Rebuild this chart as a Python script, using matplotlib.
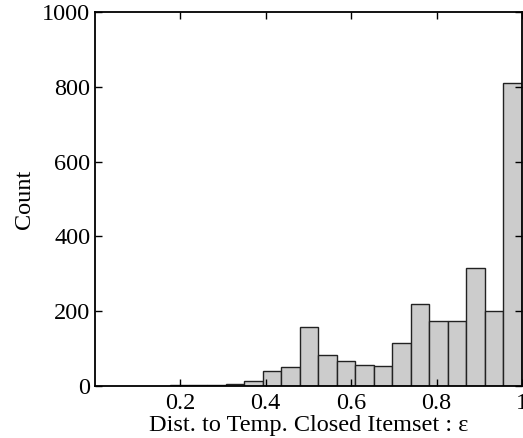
import numpy as np
import matplotlib
matplotlib.use("Agg")
import matplotlib.pyplot as plt

# histogram counts per bin, bins end at 1.0
counts = [2, 3, 3, 6, 13, 40, 52, 159, 84, 66, 57, 53, 114, 220, 175, 174, 315, 200, 810]
bin_width = 0.0433
x_ticks = [0.2, 0.4, 0.6, 0.8, 1.0]
x_tick_labels = ["0.2", "0.4", "0.6", "0.8", "1"]
y_ticks = [0, 200, 400, 600, 800, 1000]

plt.rcParams["font.family"] = ["Liberation Serif", "DejaVu Serif"]
plt.rcParams["font.size"] = 17.5

fig = plt.figure(figsize=(5.23, 4.38), dpi=100)
ax = fig.add_axes([94.5 / 523, 1 - 386 / 438, (522 - 94.5) / 523, (386 - 12) / 438])

n = len(counts)
lefts = 1.0 - bin_width * np.arange(n, 0, -1)
ax.bar(lefts, counts, width=bin_width, align="edge",
       color="#cccccc", edgecolor="#222222", linewidth=1.0)

ax.set_xlim(0, 1)
ax.set_ylim(0, 1000)
ax.set_xticks(x_ticks)
ax.set_xticklabels(x_tick_labels)
ax.set_yticks(y_ticks)
ax.tick_params(direction="in", top=True, right=True, length=5, width=1)
ax.tick_params(axis="x", pad=5)
ax.tick_params(axis="y", pad=3)
for s in ax.spines.values():
    s.set_linewidth(1.3)

ax.set_xlabel("Dist. to Temp. Closed Itemset : ε", labelpad=1)
ax.set_ylabel("Count", labelpad=5)

fig.savefig("out.png", dpi=100)
